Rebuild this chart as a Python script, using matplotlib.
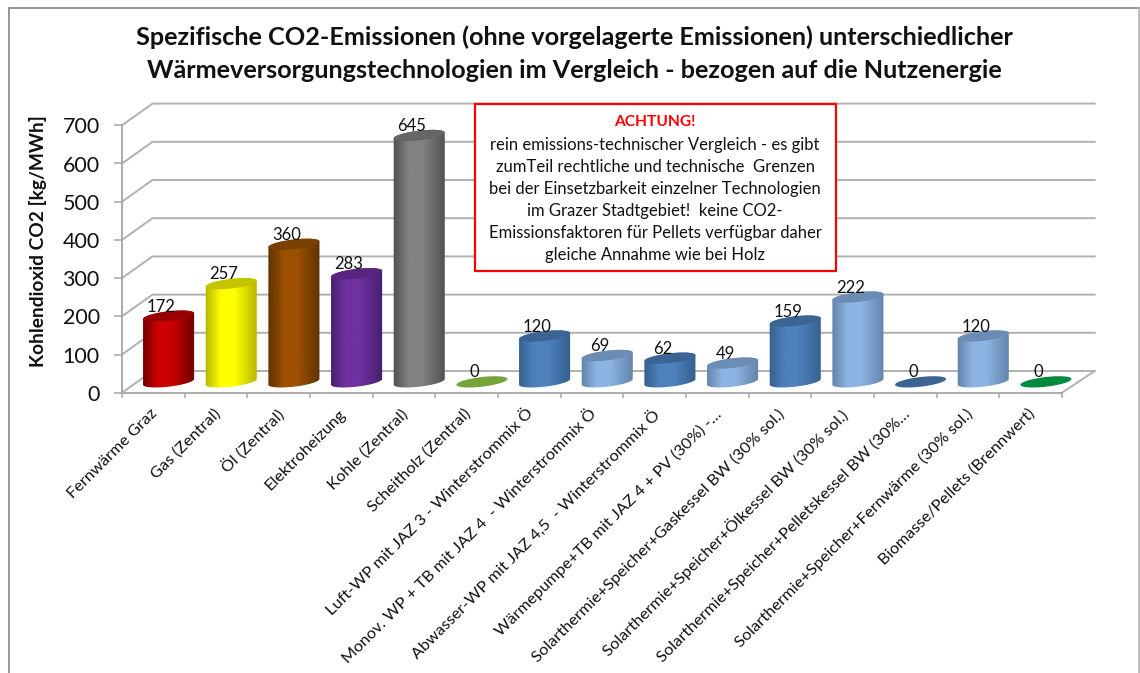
import numpy as np
import matplotlib
matplotlib.use("Agg")
import matplotlib.pyplot as plt
from matplotlib.colors import LinearSegmentedColormap
from matplotlib.patches import Polygon, Rectangle
from matplotlib.lines import Line2D
from matplotlib.transforms import ScaledTranslation

categories = ["Fernwärme Graz", "Gas (Zentral)", "Öl (Zentral)", "Elektroheizung", "Kohle (Zentral)",
              "Scheitholz (Zentral)", "Luft-WP mit JAZ 3 - Winterstrommix Ö",
              "Monov. WP + TB mit JAZ 4  - Winterstrommix Ö", "Abwasser-WP mit JAZ 4,5  - Winterstrommix Ö",
              "Wärmepumpe+TB mit JAZ 4 + PV (30%) -…", "Solarthermie+Speicher+Gaskessel BW (30% sol.)",
              "Solarthermie+Speicher+Ölkessel BW (30% sol.)", "Solarthermie+Speicher+Pelletskessel BW (30%…",
              "Solarthermie+Speicher+Fernwärme (30% sol.)", "Biomasse/Pellets (Brennwert)"]
values = [172, 257, 360, 283, 645, 0, 120, 69, 62, 49, 159, 222, 0, 120, 0]
edge_colors = ["#6e0000", "#b5b500", "#5e3200", "#44206c", "#505050", "#5f8a30", "#35608f", "#6283ab",
               "#35608f", "#6283ab", "#35608f", "#6283ab", "#35608f", "#6283ab", "#008a3e"]
mid_colors = ["#cc0000", "#ffff00", "#9c5000", "#7030a0", "#828282", "#76a33b", "#4f81bd", "#8db4e2",
              "#4f81bd", "#8db4e2", "#4f81bd", "#8db4e2", "#4f81bd", "#8db4e2", "#008a3e"]
top_colors = ["#990000", "#c4c400", "#7a4000", "#572480", "#666666", "#76a33b", "#3b6393", "#6b8cb4",
              "#3b6393", "#6b8cb4", "#3b6393", "#6b8cb4", "#3b6393", "#6b8cb4", "#008a3e"]
y_ticks = [0, 100, 200, 300, 400, 500, 600, 700]
title_lines = ["Spezifische CO2-Emissionen (ohne vorgelagerte Emissionen) unterschiedlicher",
               "Wärmeversorgungstechnologien im Vergleich - bezogen auf die Nutzenergie"]
y_label = "Kohlendioxid CO2 [kg/MWh]"
note_head = "ACHTUNG!"
note_body = ("rein emissions-technischer Vergleich - es gibt\n"
             "zumTeil rechtliche und technische  Grenzen\n"
             "bei der Einsetzbarkeit einzelner Technologien\n"
             "im Grazer Stadtgebiet!  keine CO2-\n"
             "Emissionsfaktoren für Pellets verfügbar daher\n"
             "gleiche Annahme wie bei Holz")

W, H = 1140, 673
plt.rcParams["font.family"] = ["Lato", "DejaVu Sans"]
fig = plt.figure(figsize=(W / 100, H / 100), dpi=100, facecolor="white")

# px geometry of the front plane
L, R, B, T = 122, 1062, 392.7, 125.3
ax = fig.add_axes([L / W, 1 - B / H, (R - L) / W, (B - T) / H])
ax.set_xlim(0, len(values))
ax.set_ylim(0, 700)
ax.patch.set_visible(False)
for s in ("top", "right"):
    ax.spines[s].set_visible(False)
for s in ("left", "bottom"):
    ax.spines[s].set_color("#a6a6a6")
    ax.spines[s].set_linewidth(1.3)

sx = (R - L) / len(values)
sy = (B - T) / 700
dx, dy = 30.5 / sx, 21.7 / sy      # depth offset of the back wall, data units
dx_r = 32.7 / sx
GRID = "#b0b0b0"

for v in y_ticks:
    ax.plot([0, dx, len(values) + dx_r], [v, v + dy, v + dy], color=GRID, lw=1.4, clip_on=False, zorder=1)
ax.plot([len(values), len(values) + dx_r], [0, dy], color=GRID, lw=1.4, clip_on=False, zorder=1)

ax.set_yticks(y_ticks)
ax.set_yticklabels([str(v) for v in y_ticks], fontsize=15.5, color="#111111")
ax.tick_params(axis="y", length=6, width=1.1, color="#a6a6a6", pad=10)
ax.set_xticks(np.arange(len(values) + 1))
ax.set_xticklabels([])
ax.tick_params(axis="x", which="major", length=3.5, width=1.1, color="#a6a6a6")
ax.set_xticks(np.arange(len(values)) + 0.5, minor=True)
ax.set_xticklabels(categories, minor=True, rotation=45, ha="right", va="top", rotation_mode="anchor",
                   fontsize=11.8, color="#111111")
ax.tick_params(axis="x", which="minor", length=0, pad=10)
for lab in ax.get_xticklabels(minor=True):
    lab.set_transform(lab.get_transform() + ScaledTranslation(-3 / 100, 0, fig.dpi_scale_trans))

a_px, b_px, th = 25.7, 4.8, np.deg2rad(6.7)


def ell(cx, cy, t):
    ex = a_px * np.cos(t) * np.cos(th) - b_px * np.sin(t) * np.sin(th)
    ey = a_px * np.cos(t) * np.sin(th) + b_px * np.sin(t) * np.cos(th)
    return cx + ex / sx, cy + ey / sy


ext = np.arctan2(b_px * np.sin(th), a_px * np.cos(th))   # angle parameter of the rightmost point
for i, v in enumerate(values):
    cx, base = i + 0.5 + dx / 2, dy / 2
    top = base + v
    if v > 0:
        xb, yb = ell(cx, base, np.linspace(np.pi, 2 * np.pi, 80) - ext)
        xt, yt = ell(cx, top, np.linspace(0, np.pi, 80) - ext)
        poly = np.column_stack([np.r_[xb, xt], np.r_[yb, yt]])
        cmap = LinearSegmentedColormap.from_list(
            "c", [edge_colors[i], mid_colors[i], mid_colors[i], edge_colors[i]], N=128)
        grad = np.interp(np.linspace(0, 1, 128), [0, 0.3, 0.55, 1], [0, 0.34, 0.66, 1])[None, :]
        im = ax.imshow(grad, extent=[cx - 0.42, cx + 0.42, base - 20, top + 20], aspect="auto",
                       cmap=cmap, vmin=0, vmax=1, zorder=3, interpolation="bilinear", clip_on=True)
        p = Polygon(poly, closed=True, transform=ax.transData, facecolor="none", edgecolor="none")
        ax.add_patch(p)
        im.set_clip_path(p)
    xe, ye = ell(cx, top, np.linspace(0, 2 * np.pi, 120))
    ax.add_patch(Polygon(np.column_stack([xe, ye]), closed=True, facecolor=top_colors[i], edgecolor="none",
                         zorder=4, clip_on=False))
    ax.annotate(str(v), (cx, top), xytext=(-5.5, 6.8), textcoords="offset points", ha="center", va="center",
                fontsize=12, color="#111111", zorder=5, annotation_clip=False)

ax.set_xlim(0, len(values))
ax.set_ylim(0, 700)

ax.set_ylabel(y_label, fontsize=13.8, fontweight="bold", color="#111111", va="center")
ax.yaxis.set_label_coords((38 - L) / (R - L), (B - 241) / (B - T))

for k, line in enumerate(title_lines):
    fig.text(574 / W, 1 - [37, 70][k] / H, line, ha="center", va="center", fontsize=18.2, fontweight="bold",
             color="#111111")

# annotation box
fig.patches.append(Rectangle((474.5 / W, 1 - 271 / H), 361 / W, 167.5 / H, transform=fig.transFigure,
                             facecolor="white", edgecolor="#ff0000", lw=1.6, zorder=10, figure=fig))
fig.text(655 / W, 1 - 122 / H, note_head, ha="center", va="center", fontsize=11.2, fontweight="bold",
         color="#ff0000", zorder=11)
fig.text(655 / W, 1 - 200 / H, note_body, ha="center", va="center", fontsize=12, color="#111111",
         linespacing=1.45, zorder=11)

# chart frame
fig.add_artist(Line2D([9 / W, 9 / W], [0, 1 - 7.5 / H], color="#8f8f8f", lw=1.3))
fig.add_artist(Line2D([9 / W, 1139.3 / W], [1 - 7.5 / H, 1 - 7.5 / H], color="#8f8f8f", lw=1.3))
fig.add_artist(Line2D([1139.3 / W, 1139.3 / W], [0, 1 - 7.5 / H], color="#b5b5b5", lw=1.2))

fig.savefig("out.png", dpi=100, facecolor="white")
